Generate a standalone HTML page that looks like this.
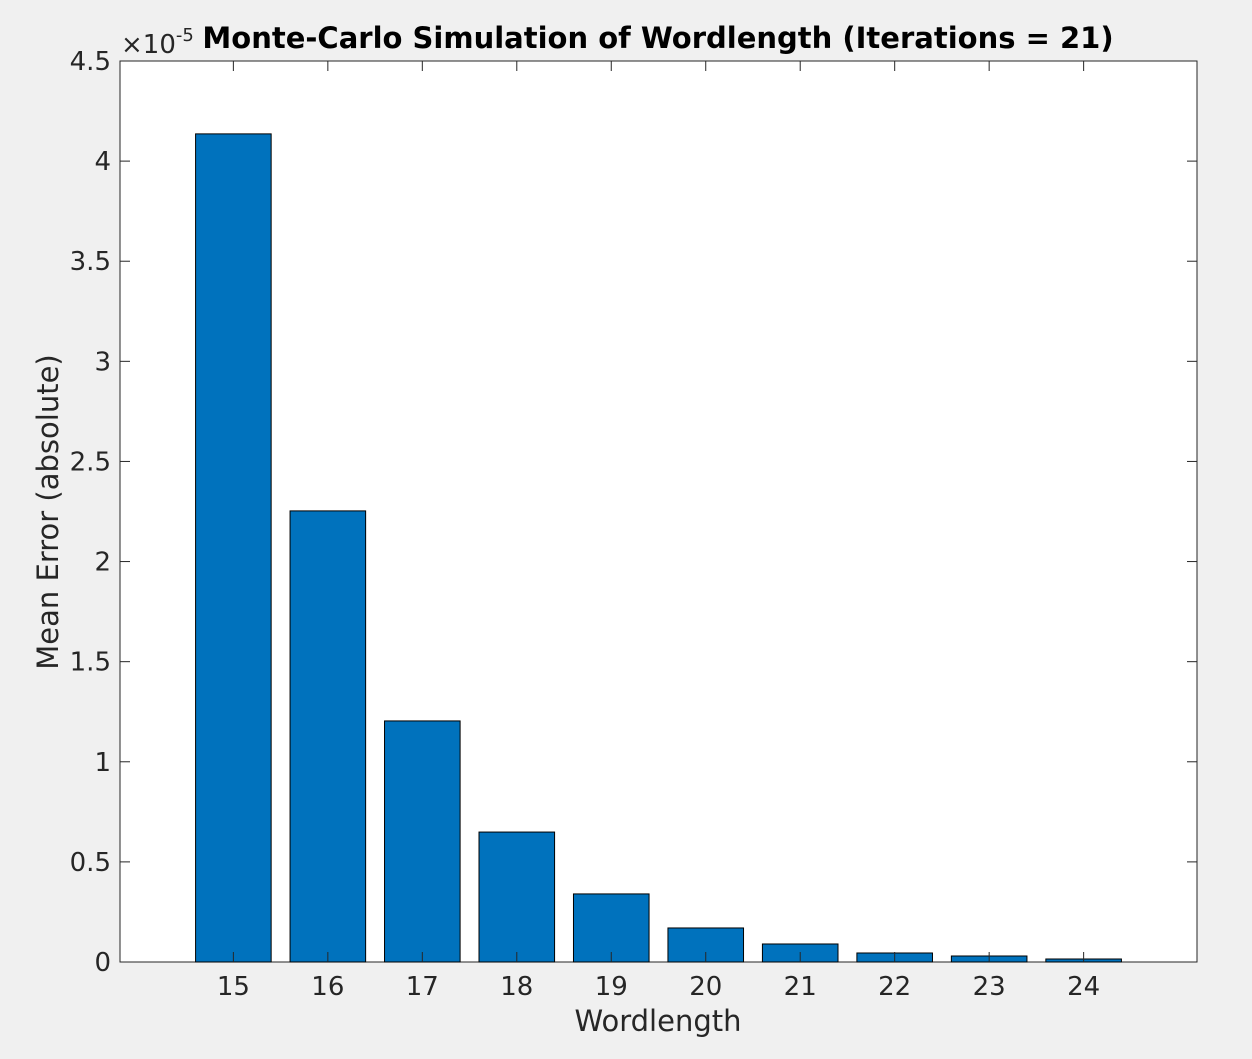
<!DOCTYPE html>
<html><head><meta charset="utf-8"><style>
html,body{margin:0;padding:0;background:#f0f0f0;}
svg{display:block;font-family:"DejaVu Sans","Liberation Sans",sans-serif;}
</style></head><body>
<svg id="chart" width="1252" height="1059">
<rect x="0" y="0" width="1252" height="1059" fill="#f0f0f0"/>
<rect x="120" y="61" width="1077" height="901" fill="#fff" stroke="#262626" stroke-width="1"/>
<g id="bars"></g><g id="ticks"></g>
<text x="658" y="48" text-anchor="middle" font-size="29" font-weight="bold" fill="#000">Monte-Carlo Simulation of Wordlength (Iterations = 21)</text>
<text x="658" y="1031" text-anchor="middle" font-size="29" fill="#262626">Wordlength</text>
<text transform="translate(58,512) rotate(-90)" text-anchor="middle" font-size="29" fill="#262626">Mean Error (absolute)</text>
<text x="121" y="53" font-size="26" fill="#262626">×10<tspan dy="-12" font-size="18">-5</tspan></text>
</svg>
<script>
const categories=[15,16,17,18,19,20,21,22,23,24];
const values=[4.136,2.253,1.204,0.649,0.34,0.17,0.09,0.045,0.03,0.015];
const yTicks=[0,0.5,1,1.5,2,2.5,3,3.5,4,4.5];
const yTickLabels=["0","0.5","1","1.5","2","2.5","3","3.5","4","4.5"];
const NS="http://www.w3.org/2000/svg";
const L=120,R=1197,T=61,B=962,xmin=13.8,xmax=25.2,ymax=4.5;
const xs=v=>L+(v-xmin)/(xmax-xmin)*(R-L);
const ys=v=>B-v/ymax*(B-T);
const bw=0.8*(R-L)/(xmax-xmin);
const bars=document.getElementById('bars'),ticks=document.getElementById('ticks');
function mk(tag,attrs,parent){const e=document.createElementNS(NS,tag);for(const k in attrs)e.setAttribute(k,attrs[k]);parent.appendChild(e);return e;}
categories.forEach((c,i)=>{
 const r=mk('rect',{x:xs(c)-bw/2,y:ys(values[i]),width:bw,height:B-ys(values[i]),fill:'#0072bd',stroke:'#000','stroke-width':1},bars);
 
 
 mk('line',{x1:xs(c),x2:xs(c),y1:B,y2:B-10,stroke:'#262626'},ticks);
 mk('line',{x1:xs(c),x2:xs(c),y1:T,y2:T+10,stroke:'#262626'},ticks);
 const t=mk('text',{x:xs(c),y:B+33,'text-anchor':'middle','font-size':26,fill:'#262626'},ticks);
 t.textContent=c;
 
 
});
yTicks.forEach((v,i)=>{
 mk('line',{x1:L,x2:L+10,y1:ys(v),y2:ys(v),stroke:'#262626'},ticks);
 mk('line',{x1:R,x2:R-10,y1:ys(v),y2:ys(v),stroke:'#262626'},ticks);
 const t=mk('text',{x:L-9,y:ys(v)+9,'text-anchor':'end','font-size':26,fill:'#262626'},ticks);
 t.textContent=yTickLabels[i];
 
 
});
</script>
</body></html>
